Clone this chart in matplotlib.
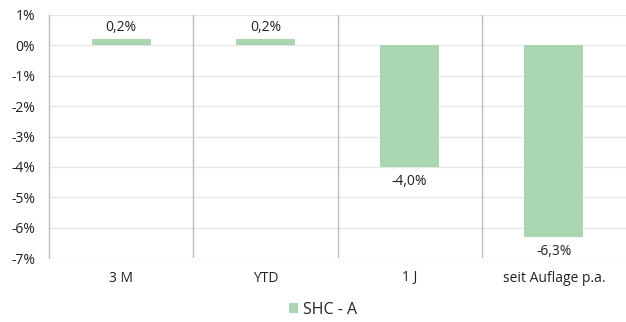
import matplotlib
matplotlib.use("Agg")
import matplotlib.pyplot as plt
import numpy as np

categories = ["3 M", "YTD", "1 J", "seit Auflage p.a."]
values = [0.2, 0.2, -4.0, -6.3]
series_name = "SHC - A"
yticks = [1, 0, -1, -2, -3, -4, -5, -6, -7]

plt.rcParams['font.family'] = ['Open Sans', 'DejaVu Sans']

fig = plt.figure(figsize=(6.26, 3.22), dpi=100)
ax = fig.add_axes([49/626, 1-258/322, 1-49/626, (258-15)/322])

x = np.arange(len(categories))
bar_color = "#a9d5b0"
bars = ax.bar(x, values, width=0.41, color=bar_color, label=series_name, zorder=3)

ax.set_xlim(-0.5, len(categories) - 0.5)
ax.set_ylim(-7, 1)
ax.set_yticks(yticks)
ax.set_yticklabels([f"{t}%" for t in yticks], fontsize=10, color="#222222")
ax.set_xticks(x)
ax.set_xticklabels(categories, fontsize=10, color="#222222")
ax.tick_params(axis='both', length=0)
ax.tick_params(axis='x', pad=9)
ax.tick_params(axis='y', pad=10)

for t in yticks:
    ax.axhline(t, color="#e6e6e6", lw=1, zorder=1)
for b in [0.5, 1.5, 2.5]:
    ax.axvline(b, color="#bdbdbd", lw=1, zorder=2)

for s in ["top", "right", "bottom"]:
    ax.spines[s].set_visible(False)
ax.spines["left"].set_color("#bdbdbd")
ax.spines["left"].set_linewidth(1)

for xi, v in zip(x, values):
    label = f"{v:.1f}%".replace(".", ",")
    if v >= 0:
        ax.annotate(label, (xi, v), xytext=(0, 3), textcoords="offset points",
                    ha="center", va="bottom", fontsize=10, color="#222222")
    else:
        ax.annotate(label, (xi, v), xytext=(0, -5), textcoords="offset points",
                    ha="center", va="top", fontsize=10, color="#222222")

fig.legend(handles=[bars], labels=[series_name], loc="center", bbox_to_anchor=(323/626, 1-310/322),
           frameon=False, fontsize=11.5, handlelength=0.6, handleheight=0.6, handletextpad=0.3,
           borderpad=0, labelcolor="#222222")

fig.savefig("out.png", dpi=100)
